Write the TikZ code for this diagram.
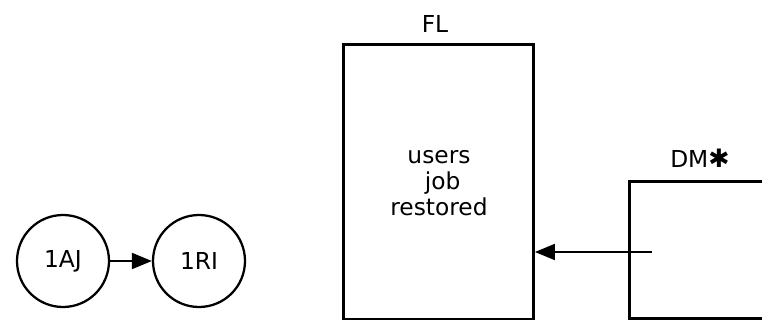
\documentclass[tikz,border=0pt]{standalone}
\usepackage{fontspec}
\setmainfont{DejaVu Sans}
\usetikzlibrary{arrows.meta}
\begin{document}
\begin{tikzpicture}[x=0.75pt,y=-0.75pt,
  every node/.style={font=\fontsize{17.5}{19.5}\selectfont},
  state/.style={draw,circle,line width=1.7pt,minimum size=69pt,inner sep=0pt},
  blk/.style={draw,line width=2.2pt,inner sep=0pt},
  lbl/.style={inner sep=0pt},
  conn/.style={line width=1.5pt,-{Triangle[length=15pt,width=12pt]}}]
\useasboundingbox (0,0) rectangle (762,320);
\clip (0,0) rectangle (762,320);
\node[state] (aj) at (63,261) {1AJ};
\node[state] (ri) at (199,261) {1RI};
\draw[conn] (aj) -- (ri);
\node[blk,minimum width=142.5pt,minimum height=206pt,anchor=north west] (fl) at (342,43) {};
\node[lbl] (fltxt) at (435,24) {FL};
\node[lbl,align=center] (body) at (439,183) {users\\\ job\\restored};
\node[blk,minimum width=150pt,minimum height=103pt,anchor=north west] (dm) at (628,180) {};
\node[lbl,anchor=base west] (dmtxt) at (670,167) {DM\raisebox{-0.5pt}{\fontsize{19}{19}\selectfont ✱}};
\coordinate (src) at (652,252);
\draw[conn] (src) -- (fl.east |- src);
\end{tikzpicture}
\end{document}
